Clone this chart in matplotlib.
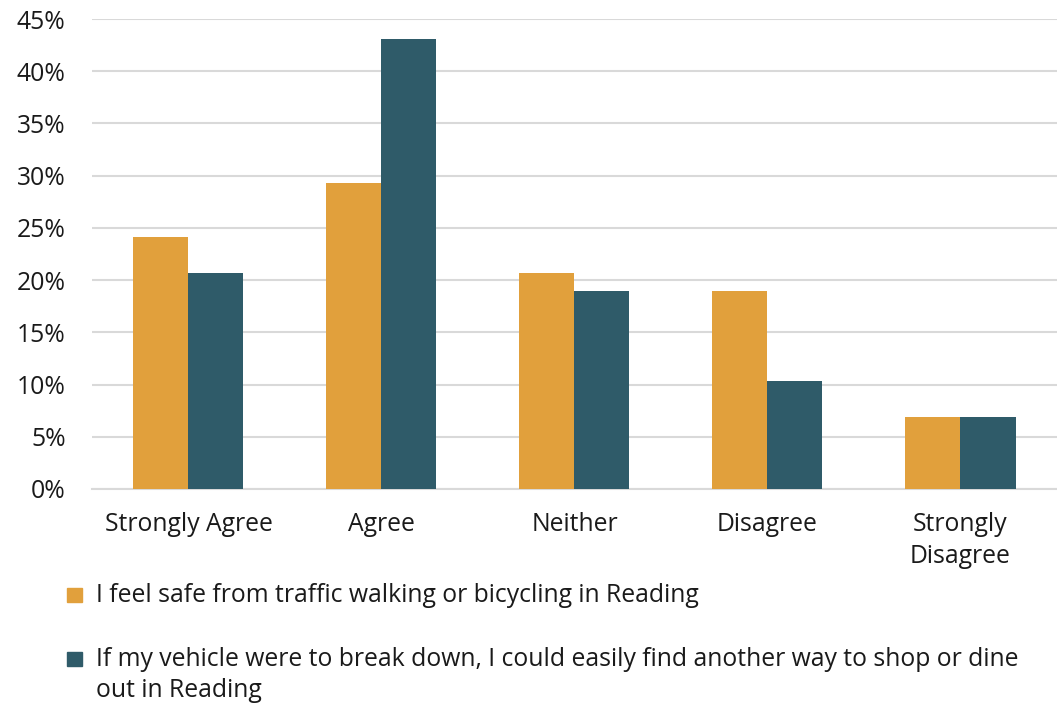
import matplotlib.pyplot as plt
import numpy as np
from matplotlib.patches import Rectangle

plt.rcParams['font.family'] = ['Open Sans', 'DejaVu Sans']

categories = ["Strongly Agree", "Agree", "Neither", "Disagree", "Strongly\nDisagree"]
safe = [24.1, 29.3, 20.7, 19.0, 6.9]
other_way = [20.7, 43.1, 19.0, 10.3, 6.9]
series_labels = ["I feel safe from traffic walking or bicycling in Reading",
                 "If my vehicle were to break down, I could easily find another way to shop or dine\nout in Reading"]
colors = ["#E1A03C", "#2F5B69"]

fig = plt.figure(figsize=(10.57, 7.04), dpi=100)
ax = fig.add_axes([0.087, 0.3054, 0.913, 0.6676])

x = np.arange(len(categories))
w = 0.285
ax.bar(x - w / 2, safe, w, color=colors[0], zorder=3)
ax.bar(x + w / 2, other_way, w, color=colors[1], zorder=3)

ax.set_xlim(-0.5, 4.5)
ax.set_ylim(0, 45)
ax.set_yticks(range(0, 46, 5))
ax.set_yticklabels([f"{v}%" for v in range(0, 46, 5)])
ax.set_xticks(x)
ax.set_xticklabels(categories, linespacing=1.38)
ax.yaxis.grid(True, color="#D9D9D9", linewidth=1.5, zorder=0)
for s in ["top", "right", "left"]:
    ax.spines[s].set_visible(False)
ax.spines["bottom"].set_color("#D9D9D9")
ax.spines["bottom"].set_linewidth(1.5)
ax.tick_params(axis="both", length=0, labelsize=17.8, colors="#1a1a1a")
ax.tick_params(axis="x", pad=16.5)
ax.tick_params(axis="y", pad=19)

# legend drawn by hand so the square lines up with the first text line
W, H = 1057, 704
legend_y = [595, 659]
for lab, col, yy in zip(series_labels, colors, legend_y):
    fig.patches.append(Rectangle((67 / W, 1 - (yy + 7) / H), 15 / W, 14 / H,
                                 transform=fig.transFigure, color=col))
    fig.text(96 / W, 1 - (yy - 12) / H, lab, fontsize=17.8, color="#1a1a1a",
             va="top", ha="left", linespacing=1.33,
             transform=fig.transFigure)

fig.savefig("out.png", dpi=100)
